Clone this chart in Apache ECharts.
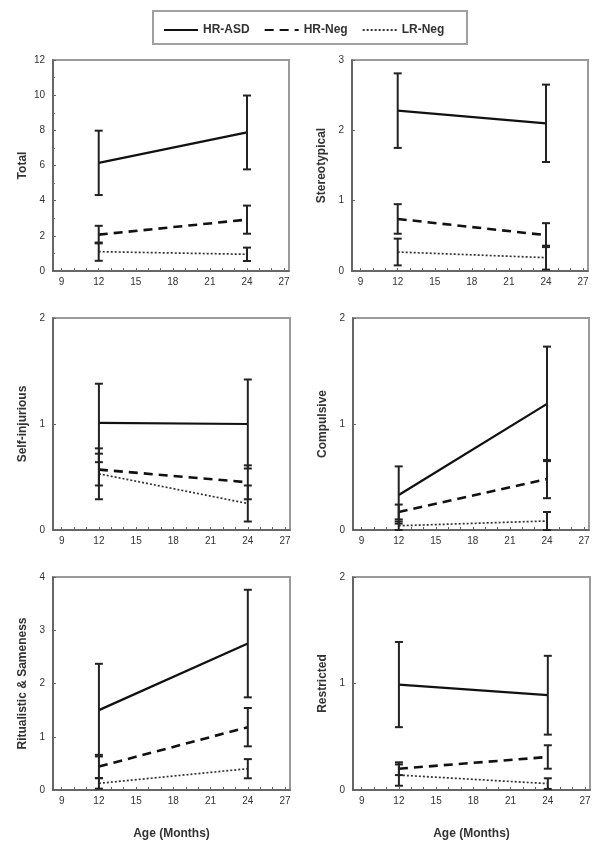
<!DOCTYPE html>
<html>
<head>
<meta charset="utf-8">
<script src="https://cdn.jsdelivr.net/npm/echarts@6/dist/echarts.min.js"></script>
<style>
html,body{margin:0;padding:0;background:#fff;}
#chart{width:604px;height:853px;}
</style>
</head>
<body>
<div id="chart"></div>
<script>
// ---- data ----
const ages = [12, 24];
const groupNames = ['HR-ASD', 'HR-Neg', 'LR-Neg'];
const xTickLabels = [9, 12, 15, 18, 21, 24, 27];

const panelTitles = ['Total', 'Stereotypical', 'Self-injurious', 'Compulsive', 'Ritualistic & Sameness', 'Restricted'];
const yMaxes = [12, 3, 2, 2, 4, 2];
const yIntervals = [2, 1, 1, 1, 1, 1];

// means and error (half-bar) per panel, per group [12 mo, 24 mo]
const totalASD = [6.15, 7.88],   totalASDErr = [1.83, 2.1];
const totalHRN = [2.07, 2.92],   totalHRNErr = [0.5, 0.8];
const totalLRN = [1.1, 0.95],    totalLRNErr = [0.52, 0.38];

const stereoASD = [2.28, 2.1],   stereoASDErr = [0.53, 0.55];
const stereoHRN = [0.74, 0.51],  stereoHRNErr = [0.21, 0.17];
const stereoLRN = [0.27, 0.19],  stereoLRNErr = [0.19, 0.17];

const selfASD = [1.01, 1.0],     selfASDErr = [0.37, 0.42];
const selfHRN = [0.57, 0.45],    selfHRNErr = [0.15, 0.16];
const selfLRN = [0.53, 0.25],    selfLRNErr = [0.24, 0.17];

const compASD = [0.33, 1.19],    compASDErr = [0.27, 0.54];
const compHRN = [0.17, 0.48],    compHRNErr = [0.07, 0.18];
const compLRN = [0.04, 0.085],   compLRNErr = [0.04, 0.085];

const ritASD = [1.5, 2.75],      ritASDErr = [0.87, 1.01];
const ritHRN = [0.44, 1.18],     ritHRNErr = [0.22, 0.36];
const ritLRN = [0.125, 0.4],     ritLRNErr = [0.1, 0.18];

const restASD = [0.99, 0.89],    restASDErr = [0.4, 0.37];
const restHRN = [0.2, 0.31],     restHRNErr = [0.06, 0.11];
const restLRN = [0.14, 0.06],    restLRNErr = [0.1, 0.05];

const panelData = [
  [[totalASD, totalASDErr], [totalHRN, totalHRNErr], [totalLRN, totalLRNErr]],
  [[stereoASD, stereoASDErr], [stereoHRN, stereoHRNErr], [stereoLRN, stereoLRNErr]],
  [[selfASD, selfASDErr], [selfHRN, selfHRNErr], [selfLRN, selfLRNErr]],
  [[compASD, compASDErr], [compHRN, compHRNErr], [compLRN, compLRNErr]],
  [[ritASD, ritASDErr], [ritHRN, ritHRNErr], [ritLRN, ritLRNErr]],
  [[restASD, restASDErr], [restHRN, restHRNErr], [restLRN, restLRNErr]]
];

// ---- layout / style ----
const gridPos = [
  {left: 53, top: 60, width: 236, height: 211},
  {left: 352, top: 60, width: 236, height: 211},
  {left: 53, top: 318, width: 237, height: 212},
  {left: 353, top: 318, width: 236, height: 212},
  {left: 53, top: 577, width: 237, height: 213},
  {left: 353, top: 577, width: 237, height: 213}
];
const lineStyles = [
  {color: '#111', width: 2.2, type: 'solid'},
  {color: '#111', width: 2.6, type: [9, 6]},
  {color: '#333', width: 1.7, type: [2, 2]}
];
const textColor = '#333';
const fontFam = 'Arial, "Liberation Sans", sans-serif';

const monthTicks = [];
for (let m = 9; m <= 27; m++) monthTicks.push(m);

const grids = [], xAxes = [], yAxes = [], series = [];

gridPos.forEach((g, p) => {
  grids.push(Object.assign({show: true, borderColor: '#9a9a9a', borderWidth: 2, backgroundColor: '#fff'}, g));
  const bottomRow = p >= 4;
  xAxes.push({
    gridIndex: p, type: 'value', min: 8.3, max: 27.4,
    splitLine: {show: false},
    axisLine: {show: true, onZero: false, lineStyle: {color: '#555', width: 1.5}},
    axisTick: {show: true, inside: true, length: 3, customValues: monthTicks, lineStyle: {color: '#666'}},
    axisLabel: {customValues: xTickLabels, color: textColor, fontSize: 10, margin: 6, fontFamily: fontFam},
    name: bottomRow ? 'Age (Months)' : '',
    nameLocation: 'middle', nameGap: 38,
    nameTextStyle: {color: textColor, fontSize: 12, fontWeight: 'bold', fontFamily: fontFam}
  });
  yAxes.push({
    gridIndex: p, type: 'value', min: 0, max: yMaxes[p], interval: yIntervals[p],
    splitLine: {show: false},
    axisLine: {show: true, onZero: false, lineStyle: {color: '#555', width: 1.5}},
    axisTick: {show: true, inside: true, length: 3, lineStyle: {color: '#666'}},
    minorTick: {show: p === 0, splitNumber: 2, length: 2, lineStyle: {color: '#777'}},
    axisLabel: {color: textColor, fontSize: 10, margin: 8, fontFamily: fontFam},
    name: panelTitles[p], nameLocation: 'middle', nameGap: 24, nameRotate: 90,
    nameTextStyle: {color: textColor, fontSize: 12, fontWeight: 'bold', fontFamily: fontFam}
  });

  panelData[p].forEach((grp, gi) => {
    const means = grp[0], errs = grp[1];
    series.push({
      name: groupNames[gi], type: 'line', xAxisIndex: p, yAxisIndex: p,
      data: ages.map((a, i) => [a, means[i]]),
      symbol: 'none', showSymbol: false,
      lineStyle: Object.assign({}, lineStyles[gi]),
      itemStyle: {color: lineStyles[gi].color},
      z: 3, silent: true
    });
    series.push({
      name: groupNames[gi] + ' error', type: 'custom', xAxisIndex: p, yAxisIndex: p,
      data: ages.map((a, i) => [a, means[i] - errs[i], means[i] + errs[i]]),
      renderItem: function (params, api) {
        const lo = api.coord([api.value(0), api.value(1)]);
        const hi = api.coord([api.value(0), api.value(2)]);
        const cap = 4;
        const st = {stroke: '#222', lineWidth: 2};
        return {
          type: 'group',
          children: [
            {type: 'line', shape: {x1: lo[0], y1: lo[1], x2: hi[0], y2: hi[1]}, style: st},
            {type: 'line', shape: {x1: lo[0] - cap, y1: lo[1], x2: lo[0] + cap, y2: lo[1]}, style: st},
            {type: 'line', shape: {x1: hi[0] - cap, y1: hi[1], x2: hi[0] + cap, y2: hi[1]}, style: st}
          ]
        };
      },
      z: 4, silent: true
    });
  });
});

const chart = echarts.init(document.getElementById('chart'), null, {renderer: 'canvas'});
chart.setOption({
  backgroundColor: '#fff',
  animation: false,
  graphic: [{
    type: 'rect', left: 152, top: 10, z: 0,
    shape: {width: 314, height: 33},
    style: {fill: '#fff', stroke: '#a0a0a0', lineWidth: 2}
  }],
  legend: {
    data: groupNames, left: 158, top: 19, itemWidth: 34, itemHeight: 12, itemGap: 14,
    itemStyle: {opacity: 0, borderWidth: 0},
    textStyle: {color: textColor, fontSize: 12, fontWeight: 'bold', fontFamily: fontFam},
    z: 5
  },
  grid: grids, xAxis: xAxes, yAxis: yAxes, series: series
});
</script>
</body>
</html>
